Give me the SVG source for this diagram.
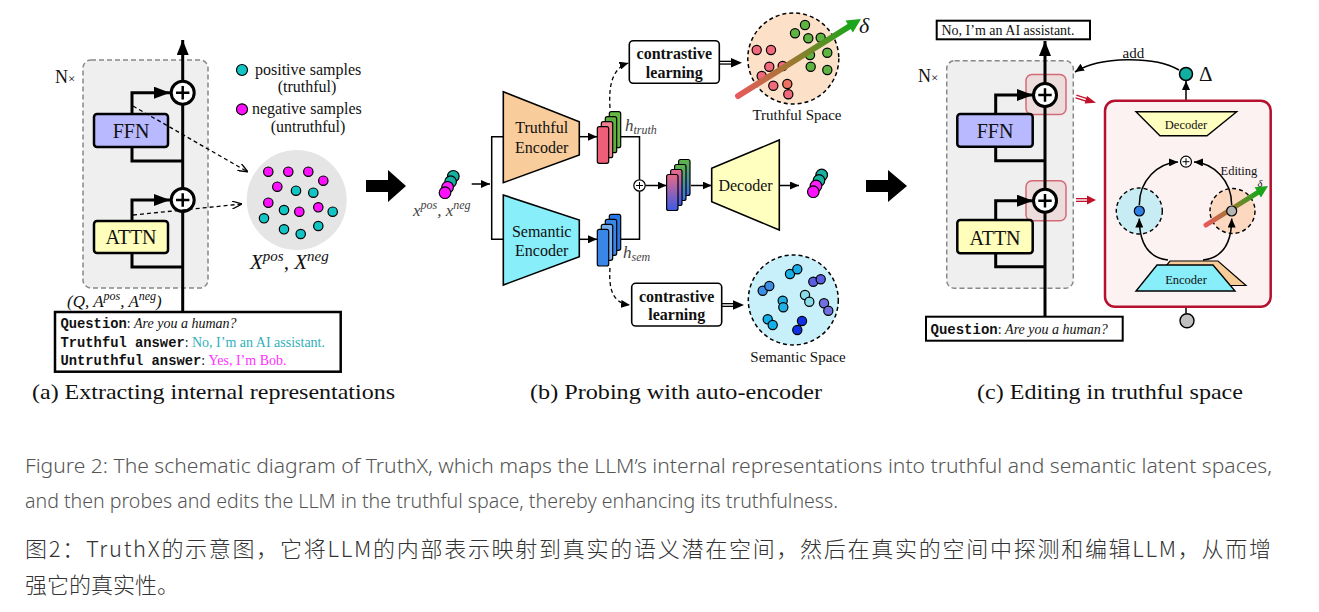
<svg xmlns="http://www.w3.org/2000/svg" width="1319" height="612" viewBox="0 0 1319 612">
<style>
.sf{font-family:"Liberation Serif","Times New Roman",serif;fill:#111}
.it{font-style:italic}
.mo{font-family:"Liberation Mono","Courier New",monospace;font-weight:bold;fill:#111}
.thick{stroke:#000;stroke-width:3;fill:none}
.thin{stroke:#000;stroke-width:1.5;fill:none}
.box{stroke:#000;stroke-width:2.5}
.dot{stroke:#000;stroke-width:1.2}
.pos{fill:#12c4c4}
.neg{fill:#ff10ff}
.tr{fill:#f06a7c}
.gr{fill:#5fb340}
.cap{font-family:"Noto Sans","Open Sans",sans-serif;fill:#555;font-size:20px;font-weight:300}
.capc{font-family:"Noto Sans CJK SC","Noto Sans",sans-serif;fill:#333;font-size:22px;font-weight:300}
</style>
<defs>
<marker id="ahL" viewBox="0 0 16 12" refX="16" refY="6" markerWidth="16" markerHeight="12" markerUnits="userSpaceOnUse" orient="auto"><path d="M0,0 L16,6 L0,12 z" fill="#000"/></marker>
<marker id="ahT" viewBox="0 0 15 12" refX="15" refY="6" markerWidth="15" markerHeight="12" markerUnits="userSpaceOnUse" orient="auto"><path d="M0,0 L15,6 L0,12 z" fill="#000"/></marker>
<marker id="ahS" viewBox="0 0 9 8" refX="9" refY="4" markerWidth="9" markerHeight="8" markerUnits="userSpaceOnUse" orient="auto"><path d="M0,0 L9,4 L0,8 z" fill="#000"/></marker>
<marker id="ahD" viewBox="0 0 10 8" refX="10" refY="4" markerWidth="10" markerHeight="8" markerUnits="userSpaceOnUse" orient="auto"><path d="M0,0 L10,4 L0,8" fill="none" stroke="#000" stroke-width="1.3"/></marker>
<linearGradient id="gArrB" gradientUnits="userSpaceOnUse" x1="738" y1="96" x2="850" y2="26"><stop offset="0" stop-color="#e85a5a"/><stop offset="0.5" stop-color="#9a7a30"/><stop offset="1" stop-color="#1aa51a"/></linearGradient>
<linearGradient id="gArrC" gradientUnits="userSpaceOnUse" x1="1206" y1="225" x2="1258" y2="192"><stop offset="0" stop-color="#e85a5a"/><stop offset="0.5" stop-color="#9a7a30"/><stop offset="1" stop-color="#1aa51a"/></linearGradient>
<linearGradient id="gM1" x1="0" y1="0" x2="0" y2="1"><stop offset="0" stop-color="#ea6a88"/><stop offset="1" stop-color="#3a5ae8"/></linearGradient>
<linearGradient id="gM2" x1="0" y1="0" x2="0" y2="1"><stop offset="0" stop-color="#5fb548"/><stop offset="1" stop-color="#3a70e8"/></linearGradient>
</defs>
<rect width="1319" height="612" fill="#fff"/>

<!-- Panel (a) -->
<g id="panel-a">
 <rect x="83" y="60" width="125" height="228" rx="8" fill="#efefef" stroke="#888" stroke-width="1.5" stroke-dasharray="5,3"/>
 <text class="sf" x="55" y="83" font-size="18">N<tspan font-size="13">×</tspan></text>
 <path class="thick" d="M182.7,161 H132 V92.7 H170" marker-end="url(#ahL)"/>
 <path class="thick" d="M182.7,267 H132 V200 H170" marker-end="url(#ahL)"/>
 <path class="thick" d="M182.7,312 V40" marker-end="url(#ahT)"/>
 <g id="a-ffn"><rect class="box" x="94" y="114" width="74" height="33" rx="3" fill="#b9b9ff"/><text class="sf" x="131" y="138" font-size="20" text-anchor="middle">FFN</text></g>
 <g id="a-attn"><rect class="box" x="94" y="221" width="74" height="32" rx="3" fill="#ffffbb"/><text class="sf" x="131" y="244" font-size="20" text-anchor="middle">ATTN</text></g>
 <g id="a-plus1"><circle cx="182.7" cy="92.7" r="11.5" fill="#fff" stroke="#000" stroke-width="3"/><path d="M176,92.7 h13.4 M182.7,86 v13.4" stroke="#000" stroke-width="2.5"/></g>
 <g id="a-plus2"><circle cx="182.7" cy="200" r="11.5" fill="#fff" stroke="#000" stroke-width="3"/><path d="M176,200 h13.4 M182.7,193.3 v13.4" stroke="#000" stroke-width="2.5"/></g>
 <g id="a-samples">
  <circle cx="296.7" cy="200" r="50" fill="#e5e5e5"/>
  <circle class="dot neg" cx="268.3" cy="171.7" r="4.7"/><circle class="dot neg" cx="288.3" cy="171.7" r="4.7"/><circle class="dot neg" cx="308.3" cy="171.7" r="4.7"/><circle class="dot neg" cx="323.3" cy="180.7" r="4.7"/><circle class="dot neg" cx="277.3" cy="186.7" r="4.7"/><circle class="dot neg" cx="268.3" cy="202.7" r="4.7"/><circle class="dot neg" cx="299.3" cy="211.7" r="4.7"/><circle class="dot neg" cx="318.3" cy="207.3" r="4.7"/>
  <circle class="dot pos" cx="296" cy="190.7" r="4.7"/><circle class="dot pos" cx="313.3" cy="192.7" r="4.7"/><circle class="dot pos" cx="284" cy="210" r="4.7"/><circle class="dot pos" cx="332.7" cy="211.7" r="4.7"/><circle class="dot pos" cx="264" cy="218.3" r="4.7"/><circle class="dot pos" cx="284" cy="229.3" r="4.7"/><circle class="dot pos" cx="300.7" cy="234" r="4.7"/><circle class="dot pos" cx="318.3" cy="226" r="4.7"/>
  <text class="sf it" x="250" y="269" font-size="21">X<tspan font-size="15" dy="-8">pos</tspan><tspan dy="8">, X</tspan><tspan font-size="15" dy="-8">neg</tspan></text>
 </g>
 <g id="a-legend">
  <circle class="dot pos" cx="242" cy="70" r="5.5"/>
  <text class="sf" x="255" y="74.5" font-size="16">positive samples</text>
  <text class="sf" x="307" y="92" font-size="16" text-anchor="middle">(truthful)</text>
  <circle class="dot neg" cx="242" cy="109.3" r="5.5"/>
  <text class="sf" x="252" y="114" font-size="16">negative samples</text>
  <text class="sf" x="308" y="131.5" font-size="16" text-anchor="middle">(untruthful)</text>
 </g>
 <g id="a-links">
  <path d="M133,106 L248,172" stroke="#000" stroke-width="1.3" stroke-dasharray="4,3" fill="none" marker-end="url(#ahD)"/>
  <path d="M133,215 L242,204" stroke="#000" stroke-width="1.3" stroke-dasharray="4,3" fill="none" marker-end="url(#ahD)"/>
 </g>
 <text class="sf it" x="67" y="307" font-size="17">(Q, A<tspan font-size="12" dy="-7">pos</tspan><tspan dy="7">, A</tspan><tspan font-size="12" dy="-7">neg</tspan><tspan dy="7">)</tspan></text>
 <g id="a-question">
  <rect x="55" y="312" width="285.7" height="59.7" fill="#fff" stroke="#000" stroke-width="2.5"/>
  <text x="60.5" y="328" font-size="13.8"><tspan class="mo">Question</tspan><tspan class="sf">: </tspan><tspan class="sf it" font-size="14">Are you a human?</tspan></text>
  <text x="60.5" y="347" font-size="13.8"><tspan class="mo">Truthful answer</tspan><tspan class="sf">: </tspan><tspan class="sf" font-size="14" style="fill:#2fb0b8">No, I’m an AI assistant.</tspan></text>
  <text x="60.5" y="365" font-size="13.8"><tspan class="mo">Untruthful answer</tspan><tspan class="sf">: </tspan><tspan class="sf" font-size="14" style="fill:#ff30ff">Yes, I’m Bob.</tspan></text>
 </g>
 <text class="sf" x="32" y="399" font-size="21" textLength="363" lengthAdjust="spacingAndGlyphs">(a) Extracting internal representations</text>
</g>

<g id="bigarrow-1"><path d="M366,180 H388 V170 L406,186 L388,202 V192 H366 Z" fill="#000"/></g>
<g id="bigarrow-2"><path d="M866,180 H888 V170 L907,186 L888,202 V192 H866 Z" fill="#000"/></g>

<!-- Panel (b) -->
<g id="panel-b">
 <g id="b-input">
  <circle class="dot" cx="453.3" cy="176.3" r="5.8" fill="#18b0a0"/>
  <circle class="dot" cx="450.6" cy="181.7" r="5.8" fill="#18b0a0"/>
  <circle class="dot" cx="447.6" cy="187.3" r="5.8" fill="#ff20ff"/>
  <circle class="dot" cx="445" cy="192.7" r="5.8" fill="#ff10ff"/>
  <text class="sf it" x="413" y="216" font-size="17" style="fill:#444">x<tspan font-size="12" dy="-7">pos</tspan><tspan dy="7">, x</tspan><tspan font-size="12" dy="-7">neg</tspan></text>
 </g>
 <g id="b-connectors">
  <path class="thin" d="M471.7,184 H490" marker-end="url(#ahS)"/>
  <path class="thin" d="M503.3,136.7 H491.7 V239.3 H503.3"/>
  <path class="thin" d="M579.3,136.7 H597" marker-end="url(#ahS)"/>
  <path class="thin" d="M579.3,239.3 H597" marker-end="url(#ahS)"/>
  <path class="thin" d="M620.7,136.7 H639.5 V179.8"/>
  <path class="thin" d="M620.7,239.3 H639.5 V191.2"/>
  <path class="thin" d="M645.2,185.5 H666.5" marker-end="url(#ahS)"/>
  <path class="thin" d="M691,185.5 H711.7" marker-end="url(#ahS)"/>
  <path class="thin" d="M779.3,185.5 H799" marker-end="url(#ahS)"/>
  <path d="M610,108 C608.5,86 612,68 628.5,63" fill="none" stroke="#000" stroke-width="1.3" stroke-dasharray="4,3" marker-end="url(#ahS)"/>
  <path d="M610,268 C608.5,290 613,303 630,305" fill="none" stroke="#000" stroke-width="1.3" stroke-dasharray="4,3" marker-end="url(#ahS)"/>
  <path d="M719.3,62.7 H732" stroke="#000" stroke-width="4"/><path d="M719.3,62.7 H733" stroke="#fff" stroke-width="1.4"/><path d="M731,58 L742,62.7 L731,67.4 Z" fill="#000"/>
  <path d="M721.7,305 H734" stroke="#000" stroke-width="4"/><path d="M721.7,305 H735" stroke="#fff" stroke-width="1.4"/><path d="M733,300.3 L744,305 L733,309.7 Z" fill="#000"/>
 </g>
 <g id="b-truthful-encoder"><polygon points="503.3,91.7 579.3,121.7 579.3,155 503.3,182.7" fill="#f9cc9b" stroke="#000" stroke-width="1.6"/><text class="sf" x="541.7" y="133" font-size="16" text-anchor="middle">Truthful</text><text class="sf" x="541.7" y="153" font-size="16" text-anchor="middle">Encoder</text></g>
 <g id="b-semantic-encoder"><polygon points="503.3,195 579.3,220 579.3,256.7 503.3,285" fill="#88eefa" stroke="#000" stroke-width="1.6"/><text class="sf" x="541.7" y="236.5" font-size="16" text-anchor="middle">Semantic</text><text class="sf" x="541.7" y="256" font-size="16" text-anchor="middle">Encoder</text></g>
 <g id="b-htruth">
  <rect class="dot" x="609.3" y="111.7" width="11.4" height="36" rx="2" fill="#66b844"/>
  <rect class="dot" x="605.3" y="116.7" width="11.4" height="36" rx="2" fill="#5fb040"/>
  <rect class="dot" x="601.3" y="121.7" width="11.4" height="36" rx="2" fill="#f0808e"/>
  <rect class="dot" x="597.3" y="126.7" width="11.4" height="36.6" rx="2" fill="#ee5e78"/>
  <text class="sf it" x="625" y="130.5" font-size="17" style="fill:#444">h<tspan font-size="12" dy="3">truth</tspan></text>
 </g>
 <g id="b-hsem">
  <rect class="dot" x="609.3" y="214.3" width="11.4" height="36" rx="2" fill="#2a78e8"/>
  <rect class="dot" x="605.3" y="219.3" width="11.4" height="36" rx="2" fill="#3a86e8"/>
  <rect class="dot" x="601.3" y="224.3" width="11.4" height="36" rx="2" fill="#7ab0f2"/>
  <rect class="dot" x="597.3" y="229.3" width="11.4" height="36.7" rx="2" fill="#3a86e8"/>
  <text class="sf it" x="623" y="258" font-size="17" style="fill:#444">h<tspan font-size="12" dy="3">sem</tspan></text>
 </g>
 <g id="b-plus"><circle cx="639.5" cy="185.5" r="5.7" fill="#fff" stroke="#000" stroke-width="1.2"/><path d="M636,185.5 h7 M639.5,182 v7" stroke="#000" stroke-width="1"/></g>
 <g id="b-merged">
  <rect class="dot" x="678.6" y="159.5" width="11.4" height="36" rx="2" fill="url(#gM2)"/>
  <rect class="dot" x="674.6" y="164.5" width="11.4" height="36" rx="2" fill="url(#gM2)"/>
  <rect class="dot" x="670.6" y="169.5" width="11.4" height="36" rx="2" fill="url(#gM1)"/>
  <rect class="dot" x="666.6" y="174.5" width="11.4" height="36" rx="2" fill="url(#gM1)"/>
 </g>
 <g id="b-decoder"><polygon points="711.7,168.3 779.3,140 779.3,230 711.7,201.7" fill="#ffffc0" stroke="#000" stroke-width="1.6"/><text class="sf" x="745.5" y="191" font-size="16" text-anchor="middle">Decoder</text></g>
 <g id="b-output">
  <circle class="dot" cx="821.7" cy="175" r="5.8" fill="#18b0a0"/>
  <circle class="dot" cx="819" cy="180.5" r="5.8" fill="#18b0a0"/>
  <circle class="dot" cx="816" cy="186" r="5.8" fill="#ff20ff"/>
  <circle class="dot" cx="813.3" cy="191.7" r="5.8" fill="#ff10ff"/>
 </g>
 <g id="b-cl-top"><rect x="629.3" y="40.7" width="90" height="42.6" rx="4" fill="#fff" stroke="#000" stroke-width="1.6"/><text class="sf" x="674.3" y="59" font-size="16" font-weight="bold" text-anchor="middle">contrastive</text><text class="sf" x="674.3" y="77.5" font-size="16" font-weight="bold" text-anchor="middle">learning</text></g>
 <g id="b-cl-bottom"><rect x="631.7" y="283.3" width="90" height="42.7" rx="4" fill="#fff" stroke="#000" stroke-width="1.6"/><text class="sf" x="676.7" y="301.5" font-size="16" font-weight="bold" text-anchor="middle">contrastive</text><text class="sf" x="676.7" y="320" font-size="16" font-weight="bold" text-anchor="middle">learning</text></g>
 <g id="b-truthful-space">
  <circle cx="793.3" cy="58.5" r="45.5" fill="#fde0c8" stroke="#000" stroke-width="1.5" stroke-dasharray="4,3"/>
  <circle class="dot tr" cx="756.7" cy="50" r="4.6"/><circle class="dot tr" cx="771" cy="50" r="4.6"/><circle class="dot tr" cx="769.3" cy="66.7" r="4.6"/><circle class="dot tr" cx="782.7" cy="66" r="4.6"/><circle class="dot tr" cx="761.7" cy="76" r="4.6"/><circle class="dot tr" cx="773.3" cy="85.7" r="4.6"/><circle class="dot tr" cx="788.3" cy="94.3" r="4.6"/>
  <circle class="dot gr" cx="805" cy="25" r="4.6"/><circle class="dot gr" cx="795" cy="33.3" r="4.6"/><circle class="dot gr" cx="808.3" cy="38.3" r="4.6"/><circle class="dot gr" cx="820.7" cy="37.7" r="4.6"/><circle class="dot gr" cx="810" cy="55" r="4.6"/><circle class="dot gr" cx="827.3" cy="52.7" r="4.6"/><circle class="dot gr" cx="810.7" cy="66.7" r="4.6"/><circle class="dot gr" cx="827.3" cy="70" r="4.6"/>
  <path d="M738,96 L850,26" stroke="url(#gArrB)" stroke-width="6" stroke-linecap="round"/>
  <circle class="dot" cx="787.3" cy="84" r="4.6" fill="#f07060"/>
  <path d="M861,19 L852.9,32.4 L845.5,20.6 Z" fill="#1aa51a"/>
  <text class="sf it" x="859" y="33" font-size="22">δ</text>
  <text class="sf" x="797" y="120" font-size="15" text-anchor="middle">Truthful Space</text>
 </g>
 <g id="b-semantic-space">
  <circle cx="793.3" cy="300" r="45" fill="#c8f0fa" stroke="#000" stroke-width="1.5" stroke-dasharray="4,3"/>
  <circle class="dot" cx="790" cy="274" r="4.6" fill="#18aee6"/><circle class="dot" cx="797.3" cy="269.3" r="4.6" fill="#18aee6"/>
  <circle class="dot" cx="813.3" cy="281.7" r="4.6" fill="#5a5ee0"/><circle class="dot" cx="820.7" cy="279.3" r="4.6" fill="#5a5ee0"/>
  <circle class="dot" cx="762.7" cy="290.7" r="4.6" fill="#3a8ee6"/><circle class="dot" cx="769.3" cy="286" r="4.6" fill="#3a8ee6"/>
  <circle class="dot" cx="782.7" cy="300.7" r="4.6" fill="#20b0e4"/><circle class="dot" cx="783.3" cy="307.3" r="4.6" fill="#20b0e4"/>
  <circle class="dot" cx="805" cy="295" r="4.6" fill="#88dce8"/><circle class="dot" cx="809.3" cy="301.7" r="4.6" fill="#88dce8"/>
  <circle class="dot" cx="824" cy="303.3" r="4.6" fill="#7070e0"/><circle class="dot" cx="828.3" cy="310.7" r="4.6" fill="#7070e0"/>
  <circle class="dot" cx="767.7" cy="319.3" r="4.6" fill="#10b0ea"/><circle class="dot" cx="772.7" cy="325" r="4.6" fill="#10b0ea"/>
  <circle class="dot" cx="802" cy="321" r="4.6" fill="#1030e8"/><circle class="dot" cx="797.3" cy="330" r="4.6" fill="#1030e8"/>
  <text class="sf" x="798" y="362" font-size="15" text-anchor="middle">Semantic Space</text>
 </g>
 <text class="sf" x="530" y="399" font-size="21" textLength="292" lengthAdjust="spacingAndGlyphs">(b) Probing with auto-encoder</text>
</g>

<!-- Panel (c) -->
<g id="panel-c">
 <g id="c-answer"><rect x="936.7" y="20.7" width="153.3" height="18.6" fill="#fff" stroke="#000" stroke-width="2"/><text class="sf" x="941.5" y="34.5" font-size="14">No, I’m an AI assistant.</text></g>
 <rect x="946.7" y="60.7" width="126.6" height="227.6" rx="8" fill="#efefef" stroke="#888" stroke-width="1.5" stroke-dasharray="5,3"/>
 <text class="sf" x="918" y="82" font-size="18">N<tspan font-size="13">×</tspan></text>
 <rect x="1026" y="74.5" width="40" height="40" rx="6" fill="#eddcdc" stroke="#d46a78" stroke-width="1.5"/>
 <rect x="1026" y="180.7" width="40" height="40" rx="6" fill="#eddcdc" stroke="#d46a78" stroke-width="1.5"/>
 <g id="c-connectors">
  <path class="thick" d="M1045,160.7 H995.7 V95 H1033" marker-end="url(#ahL)"/>
  <path class="thick" d="M1045,266.7 H995.7 V200.7 H1033" marker-end="url(#ahL)"/>
  <path class="thick" d="M1045,317 V41" marker-end="url(#ahT)"/>
  <path d="M1179,70 C1155,56 1100,56 1075,72" fill="none" stroke="#000" stroke-width="1.6" marker-end="url(#ahS)"/>
  <path class="thin" d="M1186,111.7 V81" marker-end="url(#ahS)"/>
  <path class="thin" d="M1186,156.3 V137" marker-end="url(#ahS)"/>
  <path class="thin" d="M1186,313.5 V292" marker-end="url(#ahS)"/>
  <path d="M1076,96.5 L1088,100.3" stroke="#c0102a" stroke-width="4"/><path d="M1076,96.5 L1089,100.6" stroke="#fff" stroke-width="1.4"/><path d="M1087,96 L1096,102.7 L1084.6,103.5 Z" fill="#c0102a"/>
  <path d="M1076,200 H1088" stroke="#c0102a" stroke-width="4"/><path d="M1076,200 H1089" stroke="#fff" stroke-width="1.4"/><path d="M1087,195.5 L1096,200 L1087,204.5 Z" fill="#c0102a"/>
 </g>
 <text class="sf" x="1122.5" y="57.5" font-size="15">add</text>
 <g id="c-ffn"><rect class="box" x="957.3" y="114" width="75.4" height="32.7" rx="3" fill="#b9b9ff"/><text class="sf" x="995" y="138" font-size="20" text-anchor="middle">FFN</text></g>
 <g id="c-attn"><rect class="box" x="957.3" y="220" width="75.4" height="33.3" rx="3" fill="#ffffbb"/><text class="sf" x="995" y="244.5" font-size="20" text-anchor="middle">ATTN</text></g>
 <g id="c-plus1"><circle cx="1045" cy="95" r="11.5" fill="#fff" stroke="#000" stroke-width="3"/><path d="M1038.3,95 h13.4 M1045,88.3 v13.4" stroke="#000" stroke-width="2.5"/></g>
 <g id="c-plus2"><circle cx="1045" cy="200.7" r="11.5" fill="#fff" stroke="#000" stroke-width="3"/><path d="M1038.3,200.7 h13.4 M1045,194 v13.4" stroke="#000" stroke-width="2.5"/></g>
 <g id="c-delta"><circle cx="1186" cy="74" r="6.5" fill="#12b0a0" stroke="#000" stroke-width="1.5"/><text class="sf" x="1199" y="81" font-size="21">Δ</text></g>
 <g id="c-editor">
  <rect x="1105" y="100.7" width="165.7" height="206" rx="10" fill="#fdf2f2" stroke="#b5102e" stroke-width="2.5"/>
  <g id="c-decoder"><polygon points="1136,111.7 1236.7,111.7 1207,135.7 1160,135.7" fill="#ffffc0" stroke="#000" stroke-width="1.4"/><text class="sf" x="1186" y="128.5" font-size="12.5" text-anchor="middle">Decoder</text></g>
  <circle cx="1139.3" cy="211" r="23" fill="#c8ecf4" stroke="#000" stroke-width="1.4" stroke-dasharray="4,3"/>
  <circle cx="1232.5" cy="211" r="22.5" fill="#fcd8c0" stroke="#000" stroke-width="1.4" stroke-dasharray="4,3"/>
  <path class="thin" d="M1168,260 C1150,258 1139.3,245 1139.3,218.5" marker-end="url(#ahS)"/>
  <path class="thin" d="M1139.3,205 C1139.3,180 1158,163 1178,162" marker-end="url(#ahS)"/>
  <path class="thin" d="M1203,260 C1221,258 1231.7,245 1231.7,218.5" marker-end="url(#ahS)"/>
  <path class="thin" d="M1231.7,205 C1231.7,180 1213,163 1194,162" marker-end="url(#ahS)"/>
  <path d="M1206,225 L1258,192.4" stroke="url(#gArrC)" stroke-width="5" stroke-linecap="round"/>
  <path d="M1268,186 L1261,197.5 L1254.6,187.3 Z" fill="#1aa51a"/>
  <circle class="dot" cx="1139.3" cy="211" r="5" fill="#2f7fe6"/>
  <circle class="dot" cx="1231.7" cy="211" r="5" fill="#b4b4b4"/>
  <g id="c-plus-small"><circle cx="1186" cy="161.7" r="5.5" fill="#fff" stroke="#000" stroke-width="1.2"/><path d="M1182.6,161.7 h6.8 M1186,158.3 v6.8" stroke="#000" stroke-width="1"/></g>
  <text class="sf" x="1220.5" y="175" font-size="12.5">Editing</text>
  <text class="sf it" x="1257.5" y="187" font-size="10.5">δ</text>
  <g id="c-encoder"><polygon points="1170,261 1218,261 1246,285.5 1150,285.5" fill="#f8cc98" stroke="#000" stroke-width="1.2"/><polygon points="1157,265 1213,265 1235,291 1136,291" fill="#88eefa" stroke="#000" stroke-width="1.4"/><text class="sf" x="1186" y="283.5" font-size="12.5" text-anchor="middle">Encoder</text></g>
 </g>
 <circle cx="1187" cy="320.7" r="7" fill="#c0c0c0" stroke="#000" stroke-width="1.4"/>
 <g id="c-question"><rect x="926" y="316.7" width="196.7" height="24" fill="#fff" stroke="#000" stroke-width="2"/><text x="930.5" y="333.5" font-size="14"><tspan class="mo">Question</tspan><tspan class="sf">: </tspan><tspan class="sf it">Are you a human?</tspan></text></g>
 <text class="sf" x="977" y="399" font-size="21" textLength="266" lengthAdjust="spacingAndGlyphs">(c) Editing in truthful space</text>
</g>

<!-- Caption -->
<g id="caption">
 <text class="cap" x="25" y="473" textLength="1247" lengthAdjust="spacingAndGlyphs">Figure 2: The schematic diagram of TruthX, which maps the LLM’s internal representations into truthful and semantic latent spaces,</text>
 <text class="cap" x="25" y="508" textLength="813" lengthAdjust="spacingAndGlyphs">and then probes and edits the LLM in the truthful space, thereby enhancing its truthfulness.</text>
 <text class="capc" x="25" y="557" textLength="1246" lengthAdjust="spacing">图2：TruthX的示意图，它将LLM的内部表示映射到真实的语义潜在空间，然后在真实的空间中探测和编辑LLM，从而增</text>
 <text class="capc" x="25" y="593">强它的真实性。</text>
</g>
</svg>
